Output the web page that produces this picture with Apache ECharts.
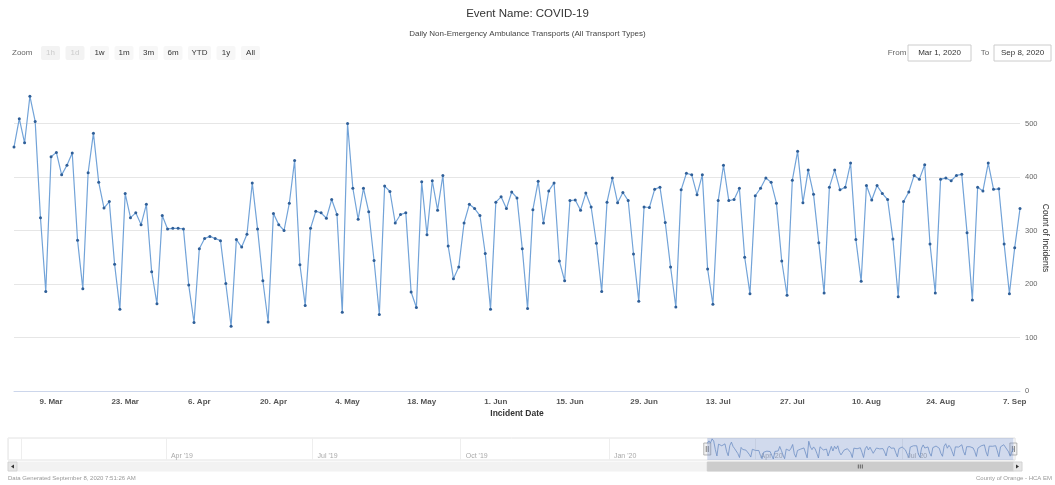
<!DOCTYPE html>
<html><head><meta charset="utf-8">
<script src="https://cdn.jsdelivr.net/npm/echarts@6/dist/echarts.min.js"></script>
<style>html,body{margin:0;padding:0;background:#fff}#c{width:1055px;height:485px}</style>
</head><body><div id="c"></div>
<script>
// ---- data ----
const startYear = 2020, startMonth = 2, startDay = 2; // first plotted day: Mar 2, 2020
const transports = [
  456, 509, 464, 551, 504, 324, 186, 438, 446, 404, 422, 445, 282, 191,
  408, 482, 390, 342, 354, 237, 153, 369, 324, 333, 311, 349, 223, 163,
  328, 303, 304, 304, 303, 198, 128, 266, 285, 289,
  285, 281, 201, 121, 283, 269, 293, 389, 303, 206, 129, 332, 311, 300,
  351, 431, 236, 160, 304, 336, 333, 323, 358, 330, 147, 500, 379, 321,
  379, 335, 244, 143, 383, 373, 314, 330, 333, 185,
  156, 391, 292, 393, 338, 403, 271, 210, 232, 314, 349, 341, 328, 257,
  153, 353, 363, 341, 372, 361, 266, 154, 339, 392, 314, 374, 389, 243,
  206, 356, 357, 338, 370, 344, 276, 186, 353, 398,
  352, 371, 356, 256, 168, 344, 343, 377, 381, 315, 232, 157, 376, 407,
  404, 367, 404, 228, 162, 356, 422, 356, 358, 379, 250, 182, 365, 379,
  398, 390, 351, 243, 179, 394, 448, 352, 413, 368,
  277, 183, 381, 413, 376, 381, 426, 283, 205, 384, 357, 384, 369, 358,
  284, 176, 354, 372, 403, 396, 423, 275, 183, 396, 398, 393, 403, 405,
  296, 170, 381, 374, 426, 377, 378, 275, 182, 268, 341
];
const tickDates = ['2020-03-09','2020-03-23','2020-04-06','2020-04-20','2020-05-04','2020-05-18','2020-06-01',
  '2020-06-15','2020-06-29','2020-07-13','2020-07-27','2020-08-10','2020-08-24','2020-09-07'];
const tickLabels = ['9. Mar','23. Mar','6. Apr','20. Apr','4. May','18. May','1. Jun',
  '15. Jun','29. Jun','13. Jul','27. Jul','10. Aug','24. Aug','7. Sep'];
const navRange = ['2018-12-24', '2020-09-09'];
const navFirstLabel = '2019-03-01';
const monthNames = ['Jan','Feb','Mar','Apr','May','Jun','Jul','Aug','Sep','Oct','Nov','Dec'];
const rangeButtons = ['1h','1d','1w','1m','3m','6m','YTD','1y','All'];
const disabledButtons = ['1h','1d'];
const fromLabel = 'Mar 1, 2020', toLabel = 'Sep 8, 2020';
const titleText = 'Event Name: COVID-19';
const subtitleText = 'Daily Non-Emergency Ambulance Transports (All Transport Types)';
const footerLeft = 'Data Generated September 8, 2020 7:51:26 AM';
const footerRight = 'County of Orange - HCA EM';

// ---- build categories ----
const pad = n => (n < 10 ? '0' : '') + n;
const categories = transports.map((v, i) => {
  const d = new Date(startYear, startMonth, startDay + i);
  return d.getFullYear() + '-' + pad(d.getMonth() + 1) + '-' + pad(d.getDate());
});
const navData = categories.map((c, i) => [c, transports[i]]);
const navFirstTs = new Date(navFirstLabel + 'T00:00:00').getTime();

const FONT = 'Liberation Sans, Arial, sans-serif';
const chart = echarts.init(document.getElementById('c'), null, {renderer: 'canvas'});

chart.setOption({
  animation: false,
  textStyle: {fontFamily: FONT},
  title: [
    {text: titleText, left: 'center', top: 3, textStyle: {fontSize: 11.5, fontWeight: 'normal', color: '#333'}},
    {text: subtitleText, left: 'center', top: 25, textStyle: {fontSize: 8, fontWeight: 'normal', color: '#444'}}
  ],
  grid: [
    {left: 14, right: 35, top: 85, bottom: 94, outerBoundsMode: 'none', containLabel: false},
    {left: 8, right: 40, top: 438, height: 22, outerBoundsMode: 'none', containLabel: false,
     show: true, borderColor: '#e2e2e2', borderWidth: 1, backgroundColor: '#fff'}
  ],
  xAxis: [
    {
      type: 'category', gridIndex: 0, data: categories, boundaryGap: false,
      axisLine: {lineStyle: {color: '#ccd6eb'}},
      axisTick: {show: false},
      axisLabel: {
        interval: (i, v) => tickDates.indexOf(v) >= 0,
        formatter: v => tickLabels[tickDates.indexOf(v)],
        color: '#555', fontSize: 8, fontWeight: 'bold', margin: 7
      },
      name: 'Incident Date', nameLocation: 'middle', nameGap: 18, nameMoveOverlap: false,
      nameTextStyle: {fontSize: 8.5, fontWeight: 'bold', color: '#333'}
    },
    {
      type: 'time', gridIndex: 1, min: navRange[0], max: navRange[1],
      minInterval: 88 * 86400000, maxInterval: 93 * 86400000,
      axisLine: {show: false}, axisTick: {show: false},
      splitLine: {show: true, lineStyle: {color: '#eeeeee'}},
      axisLabel: {
        inside: true, align: 'left', margin: 0, color: '#aaaaaa', fontSize: 7, padding: [0, 0, 0, 5],
        formatter: v => {
          if (v < navFirstTs) return '';
          const d = new Date(v);
          return monthNames[d.getMonth()] + " '" + String(d.getFullYear()).slice(2);
        }
      }
    }
  ],
  yAxis: [
    {
      type: 'value', gridIndex: 0, position: 'right', min: 0, max: 572, interval: 100,
      splitLine: {lineStyle: {color: '#e6e6e6'}, showMaxLine: false},
      axisLine: {show: false}, axisTick: {show: false},
      axisLabel: {
        showMaxLabel: false, margin: 5, color: '#666', fontSize: 7.5, padding: [0, 0, 8, 0],
        formatter: v => (v % 100 === 0 ? String(v) : '')
      },
      name: 'Count of Incidents', nameLocation: 'middle', nameRotate: -90, nameGap: 21, nameMoveOverlap: false,
      nameTextStyle: {fontSize: 8.5, color: '#333'}
    },
    {type: 'value', gridIndex: 1, min: 100, max: 570, show: false}
  ],
  series: [
    {
      type: 'line', xAxisIndex: 0, yAxisIndex: 0, data: transports,
      symbol: 'circle', symbolSize: 3, showAllSymbol: true,
      lineStyle: {color: '#72a3d8', width: 1.2},
      itemStyle: {color: '#2f5f98'}
    },
    {
      type: 'line', xAxisIndex: 1, yAxisIndex: 1, data: navData, symbol: 'none',
      lineStyle: {color: '#6f8fc4', width: 0.8},
      markArea: {
        silent: true,
        itemStyle: {color: 'rgba(102,133,194,0.3)'},
        data: [[{xAxis: categories[0]}, {xAxis: categories[categories.length - 1]}]]
      }
    }
  ]
});

// ---- chrome: range selector, inputs, scrollbar, footer ----
const els = [];
els.push({type: 'text', x: 12, y: 53, style: {text: 'Zoom', fill: '#666', fontSize: 8, fontFamily: FONT, verticalAlign: 'middle'}});
let bx = 41;
rangeButtons.forEach(b => {
  const w = b === 'YTD' ? 23 : 19;
  const dis = disabledButtons.indexOf(b) >= 0;
  els.push({type: 'rect', shape: {x: bx, y: 46, width: w, height: 14, r: 2}, style: {fill: dis ? '#f3f3f3' : '#f7f7f7'}});
  els.push({type: 'text', x: bx + w / 2, y: 53, style: {text: b, fill: dis ? '#cccccc' : '#333', fontSize: 8, fontFamily: FONT, align: 'center', verticalAlign: 'middle'}});
  bx += w + 5.5;
});
els.push({type: 'text', x: 897, y: 53, style: {text: 'From', fill: '#666', fontSize: 8, fontFamily: FONT, align: 'center', verticalAlign: 'middle'}});
els.push({type: 'rect', shape: {x: 908, y: 45, width: 63, height: 16}, style: {fill: '#fff', stroke: '#cccccc', lineWidth: 1}});
els.push({type: 'text', x: 939.5, y: 53, style: {text: fromLabel, fill: '#333', fontSize: 8, fontFamily: FONT, align: 'center', verticalAlign: 'middle'}});
els.push({type: 'text', x: 985, y: 53, style: {text: 'To', fill: '#666', fontSize: 8, fontFamily: FONT, align: 'center', verticalAlign: 'middle'}});
els.push({type: 'rect', shape: {x: 994, y: 45, width: 57, height: 16}, style: {fill: '#fff', stroke: '#cccccc', lineWidth: 1}});
els.push({type: 'text', x: 1022.5, y: 53, style: {text: toLabel, fill: '#333', fontSize: 8, fontFamily: FONT, align: 'center', verticalAlign: 'middle'}});

// scrollbar + navigator handles (positions from the navigator axis)
const xs = chart.convertToPixel({xAxisIndex: 1}, categories[0]);
const xe = chart.convertToPixel({xAxisIndex: 1}, categories[categories.length - 1]);
const sy = 462, sh = 9;
els.push({type: 'rect', shape: {x: 8, y: sy, width: 1014, height: sh}, style: {fill: '#f2f2f2', stroke: '#f2f2f2'}});
els.push({type: 'rect', shape: {x: xs, y: sy, width: xe - xs, height: sh}, style: {fill: '#cccccc', stroke: '#cccccc'}});
const gx = (xs + xe) / 2;
[-2, 0, 2].forEach(o => els.push({type: 'line', shape: {x1: gx + o, y1: sy + 2.5, x2: gx + o, y2: sy + sh - 2.5}, style: {stroke: '#333', lineWidth: 0.7}}));
els.push({type: 'rect', shape: {x: 8, y: sy, width: 9, height: sh}, style: {fill: '#e6e6e6', stroke: '#cccccc', lineWidth: 0.7}});
els.push({type: 'polygon', shape: {points: [[11, sy + 4.5], [14, sy + 2.5], [14, sy + 6.5]]}, style: {fill: '#333'}});
els.push({type: 'rect', shape: {x: 1013, y: sy, width: 9, height: sh}, style: {fill: '#e6e6e6', stroke: '#cccccc', lineWidth: 0.7}});
els.push({type: 'polygon', shape: {points: [[1019, sy + 4.5], [1016, sy + 2.5], [1016, sy + 6.5]]}, style: {fill: '#333'}});
[xs, xe].forEach(hx => {
  els.push({type: 'rect', shape: {x: hx - 3.5, y: 443, width: 7, height: 12}, style: {fill: '#f2f2f2', stroke: '#999', lineWidth: 0.7}});
  els.push({type: 'line', shape: {x1: hx - 1, y1: 446, x2: hx - 1, y2: 452}, style: {stroke: '#333', lineWidth: 0.6}});
  els.push({type: 'line', shape: {x1: hx + 1, y1: 446, x2: hx + 1, y2: 452}, style: {stroke: '#333', lineWidth: 0.6}});
});
els.push({type: 'text', x: 8, y: 478, style: {text: footerLeft, fill: '#999', fontSize: 6, fontFamily: FONT, verticalAlign: 'middle'}});
els.push({type: 'text', x: 1052, y: 478, style: {text: footerRight, fill: '#999', fontSize: 6, fontFamily: FONT, align: 'right', verticalAlign: 'middle'}});
chart.setOption({graphic: {elements: els}});
</script>
</body></html>
